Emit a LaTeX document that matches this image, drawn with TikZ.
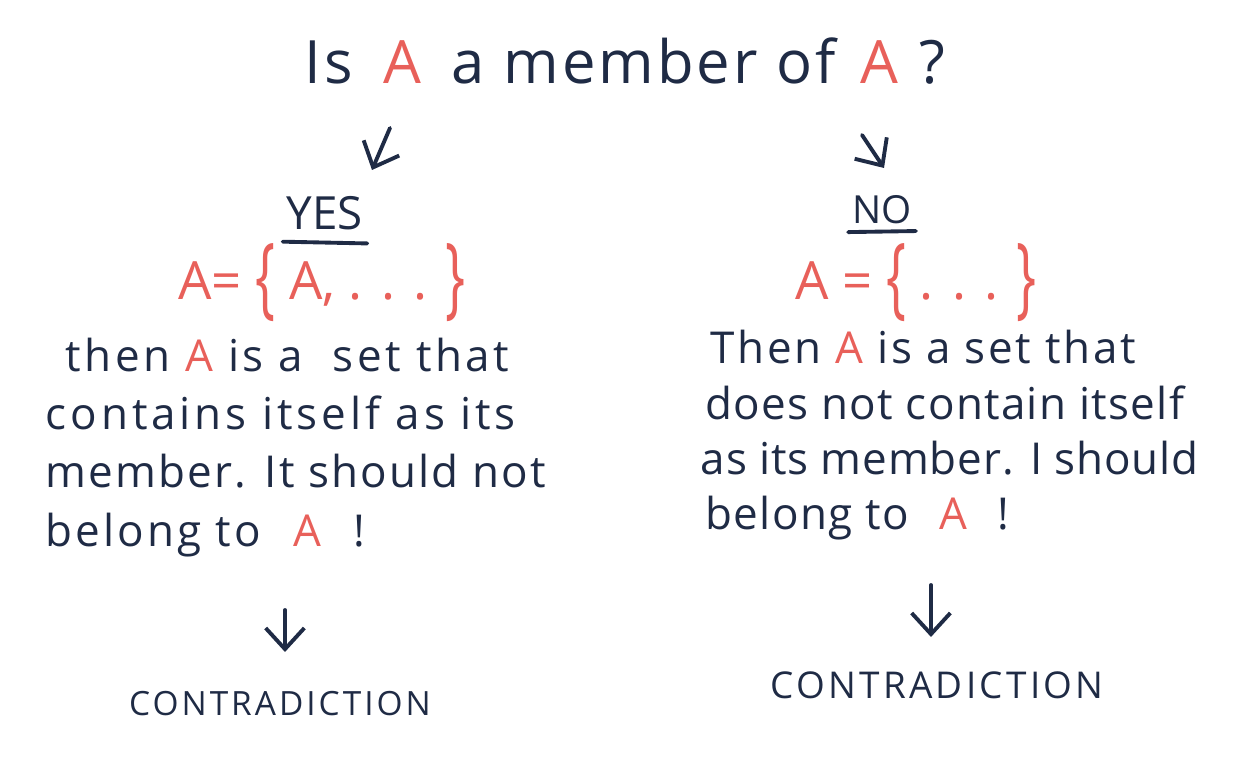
\documentclass[tikz,border=0pt]{standalone}
\usepackage{fontspec}
\setmainfont{Open Sans}
\usepackage{xcolor}
\usepackage{tikz}
\usetikzlibrary{positioning, arrows.meta}

\definecolor{ink}{HTML}{1F2B45}
\definecolor{redink}{HTML}{E8605A}
\newcommand{\redA}{\textcolor{redink}{A}}
\newcommand{\tallbrace}[1]{\raisebox{-0.25ex}{\scalebox{1}[1.7]{#1}}}

\begin{document}
\begin{tikzpicture}[x=0.01cm, y=-0.01cm,
    every node/.style={text=ink, inner sep=0pt},
    textline/.style={anchor=base west, font=\fontsize{12.5}{15}\selectfont\addfontfeatures{LetterSpace=#1}},
    textline/.default=5,
    answer/.style={anchor=base, font=\fontsize{13}{15}\selectfont},
    setnode/.style={anchor=base, text=redink, font=\fontsize{15}{18}\selectfont},
    result/.style={anchor=base, font=\fontsize{#1}{14}\selectfont\addfontfeatures{LetterSpace=9}},
    pointer/.style={draw=ink, line width=1.1pt, line cap=round, -{Straight Barb[length=6pt, width=11pt]}}]
      \useasboundingbox (0,0) rectangle (1239,768);

      % Question
      \node[anchor=base, font=\fontsize{17}{20}\selectfont\addfontfeatures{LetterSpace=5}] (question) at (625,84)
        {Is \hspace{0.2em}\redA\hspace{0.2em} a member of \hspace{0.1em}\redA\hspace{0.05em} ?};

      % Arrows to the answers
      \coordinate (yestop) at (390,128);
      \coordinate (yesend) at (372,170);
      \coordinate (notop) at (862,135);
      \coordinate (noend) at (884,168);
      \draw[pointer] (yestop) -- (yesend);
      \draw[pointer] (notop) -- (noend);

      % Answers
      \node[answer] (yes) at (325,230) {YES};
      \node[answer, font=\fontsize{11}{13}\selectfont] (no) at (882,224) {NO};
      \draw[ink, line width=1.1pt, line cap=round] ([xshift=-1pt, yshift=-3pt]yes.south west) -- ([xshift=1pt, yshift=-3.5pt]yes.south east);
      \draw[ink, line width=1.1pt, line cap=round] ([xshift=-1pt, yshift=-2pt]no.south west) -- ([xshift=1pt, yshift=-1.7pt]no.south east);

      % Sets
      \node[setnode] (yesset) at (322,300) {A= \tallbrace{\{} A, . . . \tallbrace{\}}};
      \node[setnode] (noset) at (916,300) {A = \tallbrace{\{} . . . \tallbrace{\}}};

      % Left reasoning
      \node[textline=8] (yesa) at (65,372) {then \redA\ is a \ set that};
      \node[textline=9] (yesb) at (45,430) {contains itself as its};
      \node[textline=5] (yesc) at (45,488) {member. It should not};
      \node[textline=7] (yesd) at (45,547) {belong to \hspace{0.4em}\redA\hspace{0.4em} !};

      % Right reasoning
      \node[textline=6] (noa) at (710,364) {Then \redA\ is a set that};
      \node[textline=3] (nob) at (705,420) {does not contain itself};
      \node[textline=2] (noc) at (700,475) {as its member. I should};
      \node[textline=3] (nod) at (705,530) {belong to \hspace{0.4em}\redA\hspace{0.4em} !};

      % Arrows to the result
      \coordinate (yesfrom) at (285,610);
      \coordinate (yesto) at (285,652);
      \coordinate (nofrom) at (931,585);
      \coordinate (noto) at (931,637);
      \draw[pointer] (yesfrom) -- (yesto);
      \draw[pointer] (nofrom) -- (noto);

      % Results
      \node[result=9.5] (yesresult) at (280,716) {CONTRADICTION};
      \node[result=10.5] (noresult) at (937,699) {CONTRADICTION};
\end{tikzpicture}
\end{document}
